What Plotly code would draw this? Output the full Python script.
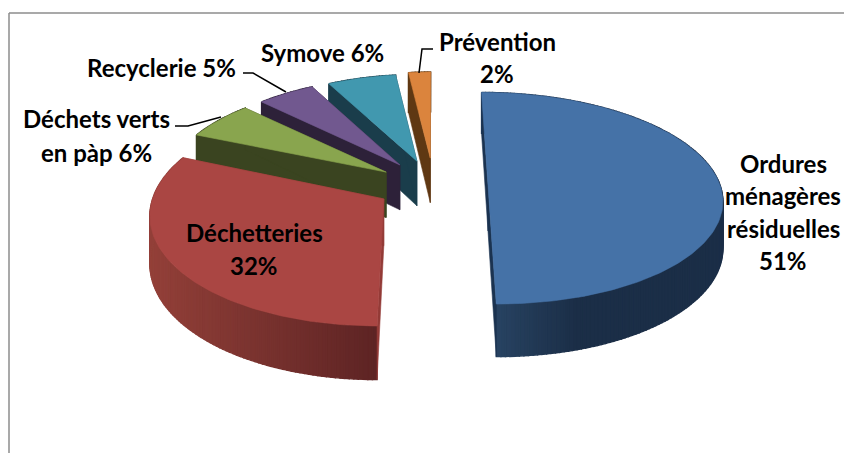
import numpy as np
import plotly.graph_objects as go

categories = ["Ordures ménagères résiduelles", "Déchetteries", "Déchets verts en pàp", "Recyclerie", "Symove", "Prévention"]
values = [51, 32, 6, 5, 6, 2]
top_colors = ["#4572A7", "#AA4643", "#89A54E", "#71588F", "#4198AF", "#DB843D"]
cut_colors = ["#1B3350", "#933B37", "#3A4420", "#2D2139", "#1A3D4B", "#5F3813"]
wall_left = ["#2A4767", "#934039", "#3A4420", "#2D2139", "#1A3D4B", "#5F3813"]
wall_right = ["#1B2E47", "#5E2424", "#3A4420", "#2D2139", "#1A3D4B", "#5F3813"]
explode = [0.25, 0.24, 0.23, 0.25, 0.25, 0.27]
x_scale = [1.0, 0.98, 0.955, 0.94, 0.93, 0.9]
y_scale = [1.01, 1.04, 1.0, 1.0, 1.0, 1.0]
x_nudge = [0, 1, 0, 4, 4, 4]

CX, A, K, H, VP, D = 430, 232, 0.125, 825, -640, 46


def project(u, v, z=0.0):
    w = 1 + K * v
    return CX + A * u / w, VP + H / w + z * D / w


def mix(c1, c2, f):
    a = [int(c1[i:i + 2], 16) for i in (1, 3, 5)]
    b = [int(c2[i:i + 2], 16) for i in (1, 3, 5)]
    return "rgb(%d,%d,%d)" % tuple(round(x + (y - x) * f) for x, y in zip(a, b))


fig = go.Figure()


def poly(pts, color, width=0.6):
    xs = [p[0] for p in pts] + [pts[0][0]]
    ys = [p[1] for p in pts] + [pts[0][1]]
    fig.add_trace(go.Scatter(x=xs, y=ys, mode="lines", fill="toself", fillcolor=color,
                             line=dict(color=color, width=width), hoverinfo="skip", showlegend=False))


total = sum(values)
edges = np.cumsum([0] + values) / total * 360
for i in [5, 4, 3, 2, 0, 1]:
    t0, t1 = edges[i], edges[i + 1]
    mid = np.radians((t0 + t1) / 2)
    ou, ov = explode[i] * np.sin(mid), explode[i] * np.cos(mid)
    ax, ay = project(ou, ov)

    def rim(u, v, z=0.0):
        x, y = project(u, v)
        return ax + (x - ax) * x_scale[i] + x_nudge[i], ay + (y - ay) * y_scale[i] + z * D / (1 + K * v)

    apex = (ax + x_nudge[i], ay)
    ts = np.radians(np.linspace(t0, t1, max(int(t1 - t0), 3) + 1))
    us = ou + np.sin(ts)
    vs = ov + np.cos(ts)
    # outer wall, shaded along the arc
    xl = [rim(u, v)[0] for u, v in zip(us, vs)]
    lo, hi = min(xl), max(xl)
    for j in range(len(ts) - 1):
        f = (xl[j] - lo) / max(hi - lo, 1)
        if i == 0:
            f = min(f * 2.5, 1)
        poly([rim(us[j], vs[j]), rim(us[j + 1], vs[j + 1]),
              rim(us[j + 1], vs[j + 1], 1), rim(us[j], vs[j], 1)],
             mix(wall_left[i], wall_right[i], f), 1.4)
    # two cut faces
    for u, v in ((us[0], vs[0]), (us[-1], vs[-1])):
        poly([apex, rim(u, v), rim(u, v, 1), (apex[0], ay + D / (1 + K * ov))], cut_colors[i])
    # top face
    poly([apex] + [rim(u, v) for u, v in zip(us, vs)], top_colors[i])

label_lines = [
    ("Prévention", 497, 41), ("2%", 497, 73),
    ("Symove 6%", 322, 52), ("Recyclerie 5%", 161, 67),
    ("Déchets verts", 96, 118), ("en pàp 6%", 96, 152),
    ("Déchetteries", 254, 232), ("32%", 254, 265),
    ("Ordures", 783, 163), ("ménagères", 783, 195), ("résiduelles", 783, 228), ("51%", 783, 260),
]
for text, x, y in label_lines:
    fig.add_annotation(x=x, y=y, text=text, showarrow=False, xanchor="center", yanchor="middle",
                       font=dict(family="Lato", size=24, color="#000000", weight="bold"))

leaders = [
    [(175, 126), (188, 126), (221, 117)],
    [(243, 73), (253, 73), (286, 92)],
    [(433, 49), (422, 49), (419, 73)],
]
for pts in leaders:
    fig.add_trace(go.Scatter(x=[p[0] for p in pts], y=[p[1] for p in pts], mode="lines",
                             line=dict(color="#000000", width=1.5), hoverinfo="skip", showlegend=False))

fig.add_shape(type="line", x0=9, x1=844, y0=13, y1=13, line=dict(color="#8C8C8C", width=1.5))
fig.add_shape(type="line", x0=9, x1=9, y0=13, y1=453, line=dict(color="#8C8C8C", width=1.5))

fig.update_xaxes(range=[0, 844], visible=False, fixedrange=True)
fig.update_yaxes(range=[453, 0], visible=False, fixedrange=True)
fig.update_layout(width=844, height=453, margin=dict(l=0, r=0, t=0, b=0),
                  paper_bgcolor="white", plot_bgcolor="white", showlegend=False)
fig.write_html("out.html", config={"displayModeBar": False},
               post_script="document.body.style.margin='0';document.body.style.overflow='hidden';")
